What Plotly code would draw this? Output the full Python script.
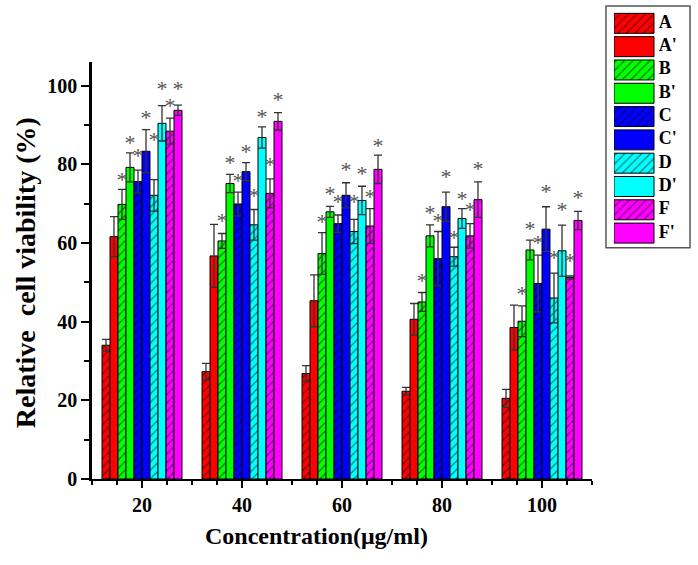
import plotly.graph_objects as go

concentrations = [20, 40, 60, 80, 100]
series_names = ["A", "A'", "B", "B'", "C", "C'", "D", "D'", "F", "F'"]
series_colors = ["#FF0000", "#FF0000", "#00FF00", "#00FF00", "#0000FF", "#0000FF",
                 "#00FFFF", "#00FFFF", "#FF00FF", "#FF00FF"]
hatched = [True, False, True, False, True, False, True, False, True, False]

A_vals = [34.0, 27.3, 26.8, 22.3, 20.5]
A_err = [1.5, 2.1, 2.0, 1.0, 2.3]
Ap_vals = [61.6, 56.7, 45.3, 40.6, 38.5]
Ap_err = [5.1, 8.0, 6.6, 4.0, 5.7]
B_vals = [69.8, 60.5, 57.3, 45.0, 40.1]
B_err = [3.8, 1.9, 5.3, 2.4, 3.9]
Bp_vals = [79.2, 75.1, 67.9, 61.8, 58.2]
Bp_err = [3.7, 2.3, 1.4, 2.8, 2.5]
C_vals = [75.6, 69.9, 64.9, 56.0, 49.7]
C_err = [2.9, 3.0, 2.2, 6.9, 7.2]
Cp_vals = [83.3, 78.1, 72.1, 69.2, 63.5]
Cp_err = [5.5, 2.3, 3.2, 3.7, 5.7]
D_vals = [72.1, 64.6, 62.9, 56.5, 46.0]
D_err = [4.0, 3.9, 3.1, 2.4, 6.3]
Dp_vals = [90.4, 86.8, 70.8, 66.2, 58.0]
Dp_err = [4.5, 2.7, 3.6, 2.5, 6.5]
F_vals = [88.4, 72.6, 64.3, 61.8, 51.2]
F_err = [3.3, 3.7, 4.4, 3.1, 0.4]
Fp_vals = [93.7, 90.9, 78.7, 71.0, 65.7]
Fp_err = [1.3, 2.2, 3.6, 4.5, 2.3]

# heights of the significance asterisks (None = no asterisk)
A_star = [None] * 5
Ap_star = [None] * 5
B_star = [77.0, 66.4, 66.2, 51.2, 48.0]
Bp_star = [86.3, 81.2, 73.4, 68.4, 64.3]
C_star = [83.1, 76.7, 71.3, 66.4, 60.9]
Cp_star = [92.6, 84.0, 79.3, 77.7, 73.8]
D_star = [87.1, 72.8, 71.3, 62.2, 57.1]
Dp_star = [100.0, 92.9, 78.4, 72.1, 69.2]
F_star = [95.6, 80.8, 72.6, 69.2, 56.3]
Fp_star = [99.9, 97.3, 85.6, 79.8, 72.3]

values = [A_vals, Ap_vals, B_vals, Bp_vals, C_vals, Cp_vals, D_vals, Dp_vals, F_vals, Fp_vals]
errors = [A_err, Ap_err, B_err, Bp_err, C_err, Cp_err, D_err, Dp_err, F_err, Fp_err]
stars = [A_star, Ap_star, B_star, Bp_star, C_star, Cp_star, D_star, Dp_star, F_star, Fp_star]

FONT = "Liberation Serif, Times New Roman, serif"
W, H = 698, 565
ML, MR, MT, MB = 92, 8, 6, 85.5
PW = W - ML - MR
PH = H - MT - MB


def px2x(px):
    return (px - ML) / PW


def py2y(py):
    return (H - MB - py) / PH


bar_w = 1.6
n = len(series_names)
Y_MAX = 106
# the asterisk glyph sits high in its text box: lower the text anchor by ~5 px
star_shift = 5 * Y_MAX / (H - MB - 62)

fig = go.Figure()
for i, name in enumerate(series_names):
    xs = [c + (i - (n - 1) / 2) * bar_w for c in concentrations]
    marker = dict(color=series_colors[i], line=dict(color="black", width=1))
    if hatched[i]:
        marker["pattern"] = dict(shape="/", fgcolor="black", size=6, solidity=0.2)
    fig.add_trace(go.Bar(
        x=xs, y=values[i], width=bar_w, marker=marker, name=name, showlegend=False,
        error_y=dict(type="data", array=errors[i], color="#333333", thickness=1.3, width=4),
        xaxis="x", yaxis="y",
    ))
    sx = [x for x, s in zip(xs, stars[i]) if s is not None]
    sy = [s - star_shift for s in stars[i] if s is not None]
    if sx:
        fig.add_trace(go.Scatter(
            x=sx, y=sy, mode="text", text=["*"] * len(sx), textposition="middle center",
            textfont=dict(family=FONT, size=22, color="#555555"), showlegend=False,
            hoverinfo="skip", xaxis="x", yaxis="y",
        ))

# legend drawn as an inset: patterned swatches of length 1 plus their labels
for i, name in enumerate(series_names):
    marker = dict(color=series_colors[i], line=dict(color="black", width=1))
    if hatched[i]:
        marker["pattern"] = dict(shape="/", fgcolor="black", size=6, solidity=0.2)
    fig.add_trace(go.Bar(
        x=[1], y=[name], orientation="h", width=0.857, marker=marker, showlegend=False,
        hoverinfo="skip", xaxis="x2", yaxis="y2",
    ))
fig.add_trace(go.Scatter(
    x=[1.12] * n, y=series_names, text=series_names, mode="text",
    textposition="middle right", cliponaxis=False, showlegend=False, hoverinfo="skip",
    textfont=dict(family=FONT, size=18, color="black", weight="bold"),
    xaxis="x2", yaxis="y2",
))

main_xdom = [0, px2x(592)]
main_ydom = [0, py2y(62)]
leg_xdom = [px2x(614), px2x(690)]
leg_ydom = [py2y(245), py2y(11.7)]

tickfont = dict(family=FONT, size=20, color="black", weight="bold")
fig.update_layout(
    width=W, height=H,
    margin=dict(l=ML, r=MR, t=MT, b=MB, autoexpand=False),
    paper_bgcolor="white", plot_bgcolor="white",
    barmode="overlay",
    showlegend=False,
    xaxis=dict(domain=main_xdom, range=[10, 110], tickvals=concentrations, ticks="outside",
               ticklen=7, tickwidth=2, tickcolor="black", showline=True, linewidth=2,
               linecolor="black", showgrid=False, zeroline=False, tickfont=tickfont,
               minor=dict(dtick=5, tick0=0, ticks="outside", ticklen=4, tickwidth=2,
                          tickcolor="black", showgrid=False),
               anchor="y", automargin=False),
    yaxis=dict(domain=main_ydom, range=[0, Y_MAX], tickvals=[0, 20, 40, 60, 80, 100],
               ticks="outside", ticklen=8, tickwidth=2, tickcolor="black", showline=True,
               linewidth=2.5, linecolor="black", showgrid=False, zeroline=False,
               tickfont=tickfont,
               minor=dict(dtick=10, tick0=0, ticks="outside", ticklen=5, tickwidth=2,
                          tickcolor="black", showgrid=False),
               anchor="x", automargin=False),
    xaxis2=dict(domain=leg_xdom, range=[0, 76 / 40], visible=False, anchor="y2",
                fixedrange=True, automargin=False),
    yaxis2=dict(domain=leg_ydom, type="category", categoryorder="array",
                categoryarray=series_names, autorange="reversed", visible=False,
                anchor="x2", fixedrange=True, automargin=False),
    shapes=[dict(type="rect", xref="paper", yref="paper", x0=px2x(606), x1=px2x(690),
                 y0=py2y(248), y1=py2y(6), line=dict(color="#555555", width=1.5))],
    annotations=[
        dict(text="Concentration(μg/ml)", xref="paper", yref="paper", x=px2x(316.5),
             y=py2y(536.7), showarrow=False, xanchor="center", yanchor="middle",
             font=dict(family=FONT, size=24, color="black", weight="bold")),
        dict(text="Relative  cell viability (%)", xref="paper", yref="paper", x=px2x(25),
             y=py2y(273.5), showarrow=False, textangle=-90, xanchor="center",
             yanchor="middle",
             font=dict(family=FONT, size=28, color="black", weight="bold")),
    ],
)

fig.write_html("out.html", post_script="document.body.style.margin='0px';",
               config={"displayModeBar": False})
